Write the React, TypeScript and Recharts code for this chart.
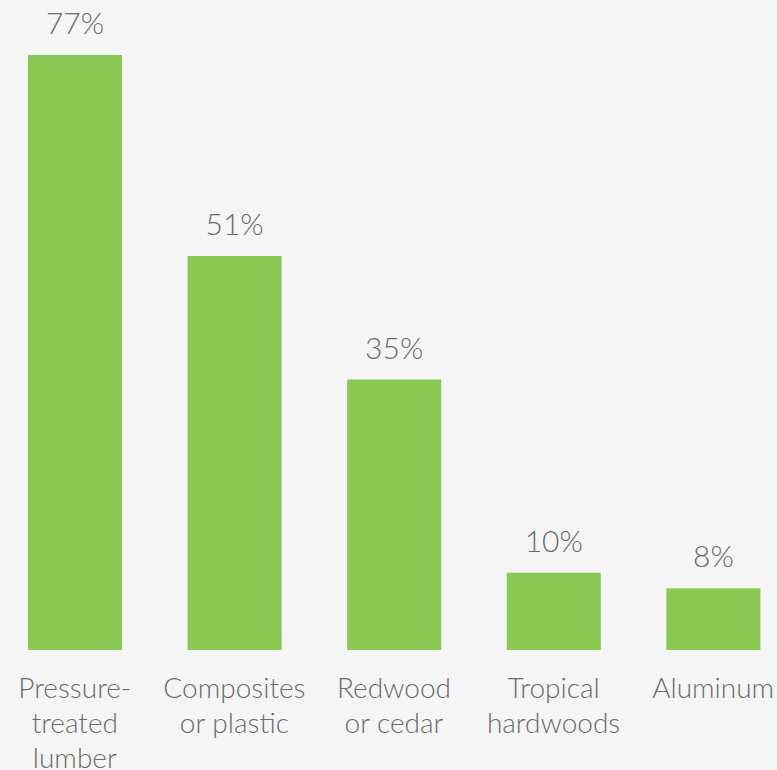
import React from "react";
import { BarChart, Bar, XAxis, YAxis, LabelList } from "recharts";

const categories = ["Pressure-treated lumber", "Composites or plastic", "Redwood or cedar", "Tropical hardwoods", "Aluminum"];
const tickLines = [["Pressure-", "treated", "lumber"], ["Composites", "or plastic"], ["Redwood", "or cedar"], ["Tropical", "hardwoods"], ["Aluminum"]];
const values = [77, 51, 35, 10, 8];

const data = categories.map((c, i) => ({ name: c, value: values[i] }));

const FONT = "Lato, 'Open Sans', sans-serif";
const TEXT = "#6b6b6b";

const Tick = (props: any) => {
  const { x, y, payload } = props;
  const idx = categories.indexOf(payload.value);
  const lines = tickLines[idx] || [payload.value];
  return (
    <text x={x} y={y} textAnchor="middle" fill={TEXT} fontFamily={FONT} fontSize={28} fontWeight={300}>
      {lines.map((l, i) => (
        <tspan key={i} x={x} y={y + 40 + i * 35}>{l}</tspan>
      ))}
    </text>
  );
};

const ValueLabel = (props: any) => {
  const { x, y, width, value } = props;
  return (
    <text x={x + width / 2} y={y - 21} textAnchor="middle" fill={TEXT} fontFamily={FONT} fontSize={30} fontWeight={300}>
      {value}%
    </text>
  );
};

export default function App() {
  return (
    <div style={{ position: "absolute", left: 0, top: 0, width: 777, height: 770, overflow: "hidden", background: "#f5f5f5" }}>
      <div style={{ position: "absolute", left: -5, top: 0 }}>
        <BarChart width={798} height={770} data={data} margin={{ top: 55, right: 0, left: 0, bottom: 0 }}>
          <XAxis dataKey="name" axisLine={false} tickLine={false} interval={0} height={120} tick={<Tick />} />
          <YAxis hide domain={[0, 77]} />
          <Bar dataKey="value" fill="#8bc955" barSize={94} isAnimationActive={false}>
            <LabelList dataKey="value" content={<ValueLabel />} />
          </Bar>
        </BarChart>
      </div>
    </div>
  );
}
